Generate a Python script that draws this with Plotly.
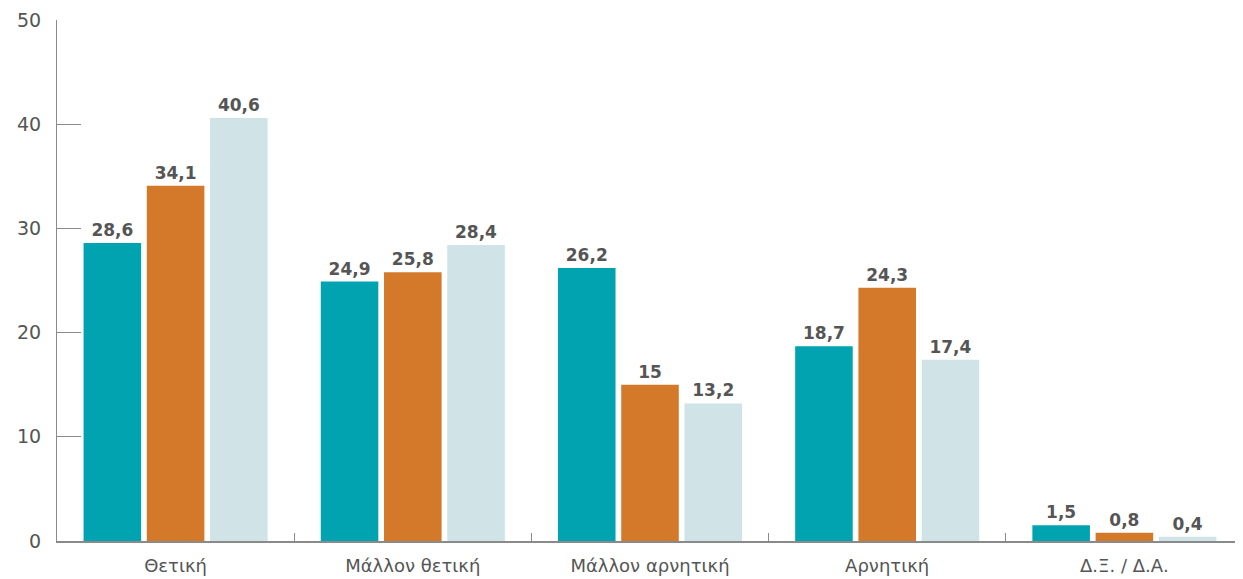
import plotly.graph_objects as go

categories = ["Θετική", "Μάλλον θετική", "Μάλλον αρνητική", "Αρνητική", "Δ.Ξ. / Δ.Α."]
series_a = [28.6, 24.9, 26.2, 18.7, 1.5]
series_b = [34.1, 25.8, 15, 24.3, 0.8]
series_c = [40.6, 28.4, 13.2, 17.4, 0.4]

colors = ["#00A3AF", "#D4782A", "#D0E3E7"]
font_family = "DejaVu Sans, Open Sans, sans-serif"


def label(vals):
    return [str(v).replace(".", ",") for v in vals]


fig = go.Figure()
for vals, col in zip([series_a, series_b, series_c], colors):
    fig.add_trace(go.Bar(
        x=categories, y=vals, marker=dict(color=col, line=dict(width=0)),
        text=label(vals), textposition="outside", cliponaxis=False,
        textfont=dict(family=font_family, size=17, color="#555555", weight="bold"),
        showlegend=False, hoverinfo="skip",
    ))

# page body adds 8px around the figure, so the figure is 8px smaller
fig.update_layout(
    width=1235, height=571,
    margin=dict(l=49, r=0, t=12, b=38),
    plot_bgcolor="white", paper_bgcolor="white",
    barmode="group", bargap=0.2, bargroupgap=0.09,
    font=dict(family=font_family, color="#555555"),
    xaxis=dict(
        showline=True, linecolor="#8a8a8a", linewidth=1.5,
        ticks="inside", tickson="boundaries", ticklen=8, tickcolor="#8a8a8a",
        tickfont=dict(size=18, color="#555555"), ticklabelstandoff=8,
        showgrid=False,
    ),
    yaxis=dict(
        range=[0, 50], dtick=10, showline=True, linecolor="#8a8a8a", linewidth=1,
        ticks="inside", ticklen=24, tickcolor="#8a8a8a",
        tickfont=dict(size=19, color="#555555"), ticklabelstandoff=11,
        showgrid=False, zeroline=False,
    ),
)

fig.write_html("out.html")
